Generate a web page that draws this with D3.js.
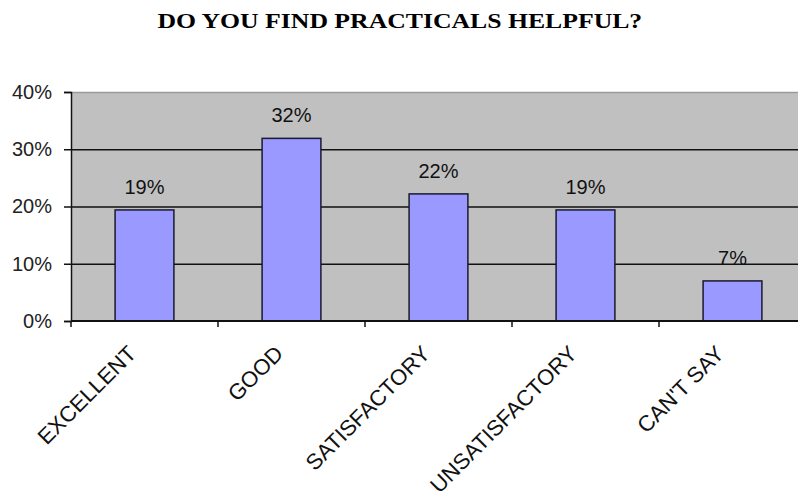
<!DOCTYPE html>
<html>
<head>
<meta charset="utf-8">
<script src="https://cdn.jsdelivr.net/npm/d3@7"></script>
<style>
  body { margin: 0; background: #fff; }
  svg { display: block; }
</style>
</head>
<body>
<svg id="chart" width="798" height="493"></svg>
<script>
// chart data
const categories = ["EXCELLENT", "GOOD", "SATISFACTORY", "UNSATISFACTORY", "CAN'T SAY"];
const values = [0.194, 0.319, 0.222, 0.194, 0.070];
const yTicks = [0, 0.1, 0.2, 0.3, 0.4];
const title = "DO YOU FIND PRACTICALS HELPFUL?";

const svg = d3.select("#chart");
const plotLeft = 71, plotRight = 806, plotTop = 92, plotBottom = 321;
const sans = "'Liberation Sans', Arial, sans-serif";

const x = d3.scaleBand()
	.domain(categories)
	.range([plotLeft, plotRight])
	.paddingInner(0.6)
	.paddingOuter(0.3);

const y = d3.scaleLinear().domain([0, 0.4]).range([plotBottom, plotTop]);
const pct = d3.format(".0%");

// title, stretched wide like the original
const titleText = svg.append("text")
	.attr("x", 0)
	.attr("y", 0)
	.style("font-family", "'Liberation Serif', 'Times New Roman', serif")
	.style("font-weight", "bold")
	.style("font-size", "21px")
	.text(title);
const tw = titleText.node().getComputedTextLength();
const titleWidth = 485;
titleText.attr("transform", `translate(${400 - titleWidth / 2},28) scale(${titleWidth / tw},1)`);

// plot area
svg.append("rect")
	.attr("x", plotLeft)
	.attr("y", plotTop)
	.attr("width", plotRight - plotLeft)
	.attr("height", plotBottom - plotTop)
	.attr("fill", "#c0c0c0");

// gridlines (top one is the lighter border)
svg.append("g")
	.selectAll("line")
	.data(yTicks.slice(1))
	.enter().append("line")
	.attr("x1", plotLeft)
	.attr("x2", plotRight)
	.attr("y1", d => y(d) + 0.5)
	.attr("y2", d => y(d) + 0.5)
	.attr("stroke", d => d === 0.4 ? "#9a9a9a" : "#111")
	.attr("stroke-width", d => d === 0.4 ? 1.5 : 1.4);

// bars
const bw = x.bandwidth();
svg.append("g")
	.selectAll("rect")
	.data(values)
	.enter().append("rect")
	.attr("x", (d, i) => x(categories[i]))
	.attr("y", d => y(d))
	.attr("width", bw)
	.attr("height", d => plotBottom - y(d))
	.attr("fill", "#9999ff")
	.attr("stroke", "#1a1a2e")
	.attr("stroke-width", 1.5);

// data labels
svg.append("g")
	.selectAll("text")
	.data(values)
	.enter().append("text")
	.attr("x", (d, i) => x(categories[i]) + bw / 2)
	.attr("y", d => y(d) - 16)
	.attr("text-anchor", "middle")
	.style("font-family", sans)
	.style("font-size", "20px")
	.attr("fill", "#111")
	.text(d => pct(d));

// y axis
const yAxis = d3.axisLeft(y)
	.tickValues(yTicks)
	.tickFormat(pct)
	.tickSize(7)
	.tickPadding(12);
const ya = svg.append("g")
	.attr("transform", `translate(${plotLeft},0)`)
	.call(yAxis);
ya.select(".domain").attr("stroke", "#111").attr("stroke-width", 1.5);
ya.selectAll(".tick line").attr("stroke", "#111").attr("stroke-width", 1.5);
ya.selectAll(".tick text")
	.style("font-family", sans)
	.style("font-size", "20px")
	.attr("fill", "#222");

// x axis: ticks at band boundaries
const step = x.step();
const boundaries = d3.range(categories.length + 1).map(i => plotLeft + i * step);
svg.append("line")
	.attr("x1", plotLeft)
	.attr("x2", plotRight)
	.attr("y1", plotBottom)
	.attr("y2", plotBottom)
	.attr("stroke", "#111")
	.attr("stroke-width", 2);
svg.append("g")
	.selectAll("line")
	.data(boundaries)
	.enter().append("line")
	.attr("x1", d => d)
	.attr("x2", d => d)
	.attr("y1", plotBottom)
	.attr("y2", plotBottom + 6)
	.attr("stroke", "#111")
	.attr("stroke-width", 1.5);

// category labels rotated -45 (the long one runs off the bottom, as in the original)
svg.append("g")
	.selectAll("text")
	.data(categories)
	.enter().append("text")
	.attr("transform", d => `translate(${x(d) + bw / 2 - 7},${plotBottom + 34}) rotate(-45)`)
	.attr("text-anchor", "end")
	.style("font-family", sans)
	.style("font-size", "22px")
	.attr("fill", "#111")
	.text(d => d);
</script>
</body>
</html>
